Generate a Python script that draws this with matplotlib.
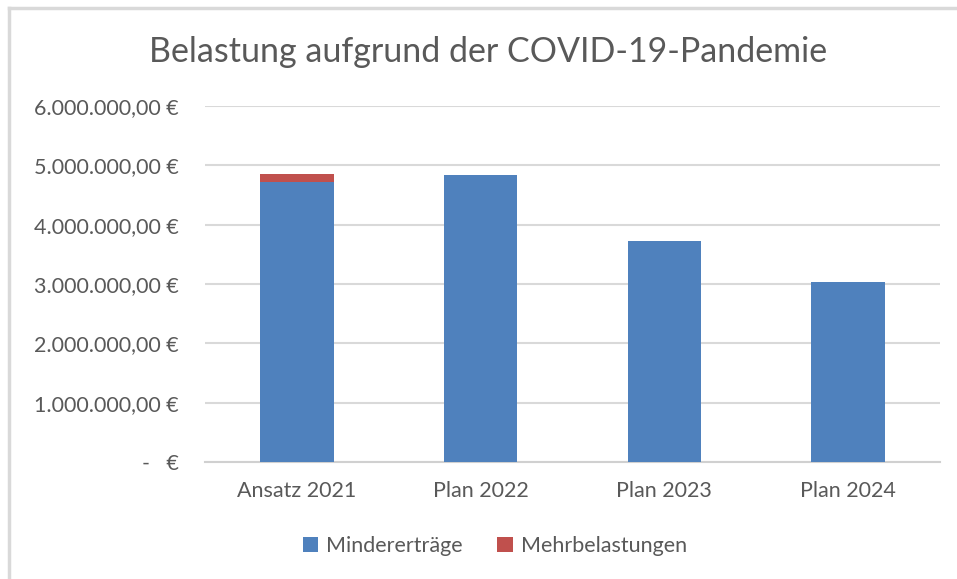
import numpy as np
import matplotlib.pyplot as plt
from matplotlib.lines import Line2D
from matplotlib.ticker import FuncFormatter

plt.rcParams['font.family'] = ['Lato', 'DejaVu Sans']

kategorien = ['Ansatz 2021', 'Plan 2022', 'Plan 2023', 'Plan 2024']
mindererträge = [4720000, 4840000, 3720000, 3030000]
mehrbelastungen = [130000, 0, 0, 0]

blau = '#4f81bd'
rot = '#c0504d'
grau = '#595959'

fig = plt.figure(figsize=(9.57, 5.79), dpi=100)
ax = fig.add_axes([205/957, 117/579, 735/957, 356/579])

x = np.arange(len(kategorien))
ax.bar(x, mindererträge, width=0.4, color=blau, label='Mindererträge', zorder=3)
ax.bar(x, mehrbelastungen, width=0.4, bottom=mindererträge, color=rot,
       label='Mehrbelastungen', zorder=3)

ax.set_xlim(-0.5, 3.5)
ax.set_ylim(0, 6000000)
ax.set_yticks(np.arange(0, 6000001, 1000000))

def euro(v, pos):
    if v == 0:
        return '-   €'
    s = f'{v:,.2f}'.replace(',', 'X').replace('.', ',').replace('X', '.')
    return s + ' €'

ax.yaxis.set_major_formatter(FuncFormatter(euro))
ax.set_xticks(x)
ax.set_xticklabels(kategorien)
ax.tick_params(axis='both', length=0, labelsize=15.5, colors=grau)
ax.tick_params(axis='y', pad=19)
ax.tick_params(axis='x', pad=14)
ax.grid(axis='y', color='#d9d9d9', linewidth=1.5, zorder=0)
for s in ['top', 'right', 'left']:
    ax.spines[s].set_visible(False)
ax.spines['bottom'].set_color('#d0d0d0')
ax.spines['bottom'].set_linewidth(1.5)

fig.text(488/957, 1 - 52/579, 'Belastung aufgrund der COVID-19-Pandemie',
         ha='center', va='center', fontsize=24.5, color=grau)

fig.legend(loc='center', bbox_to_anchor=(495/957, 1 - 546/579), ncol=2,
           frameon=False, fontsize=15.5, labelcolor=grau, handlelength=0.7,
           handleheight=0.7, columnspacing=1.6, handletextpad=0.4)

# Rahmen links und oben
fig.add_artist(Line2D([9/957, 9/957], [0, 1 - 8/579], color='#d9d9d9', linewidth=2.5))
fig.add_artist(Line2D([9/957, 1], [1 - 8/579, 1 - 8/579], color='#d9d9d9', linewidth=2.5))

fig.savefig('out.png', dpi=100)
